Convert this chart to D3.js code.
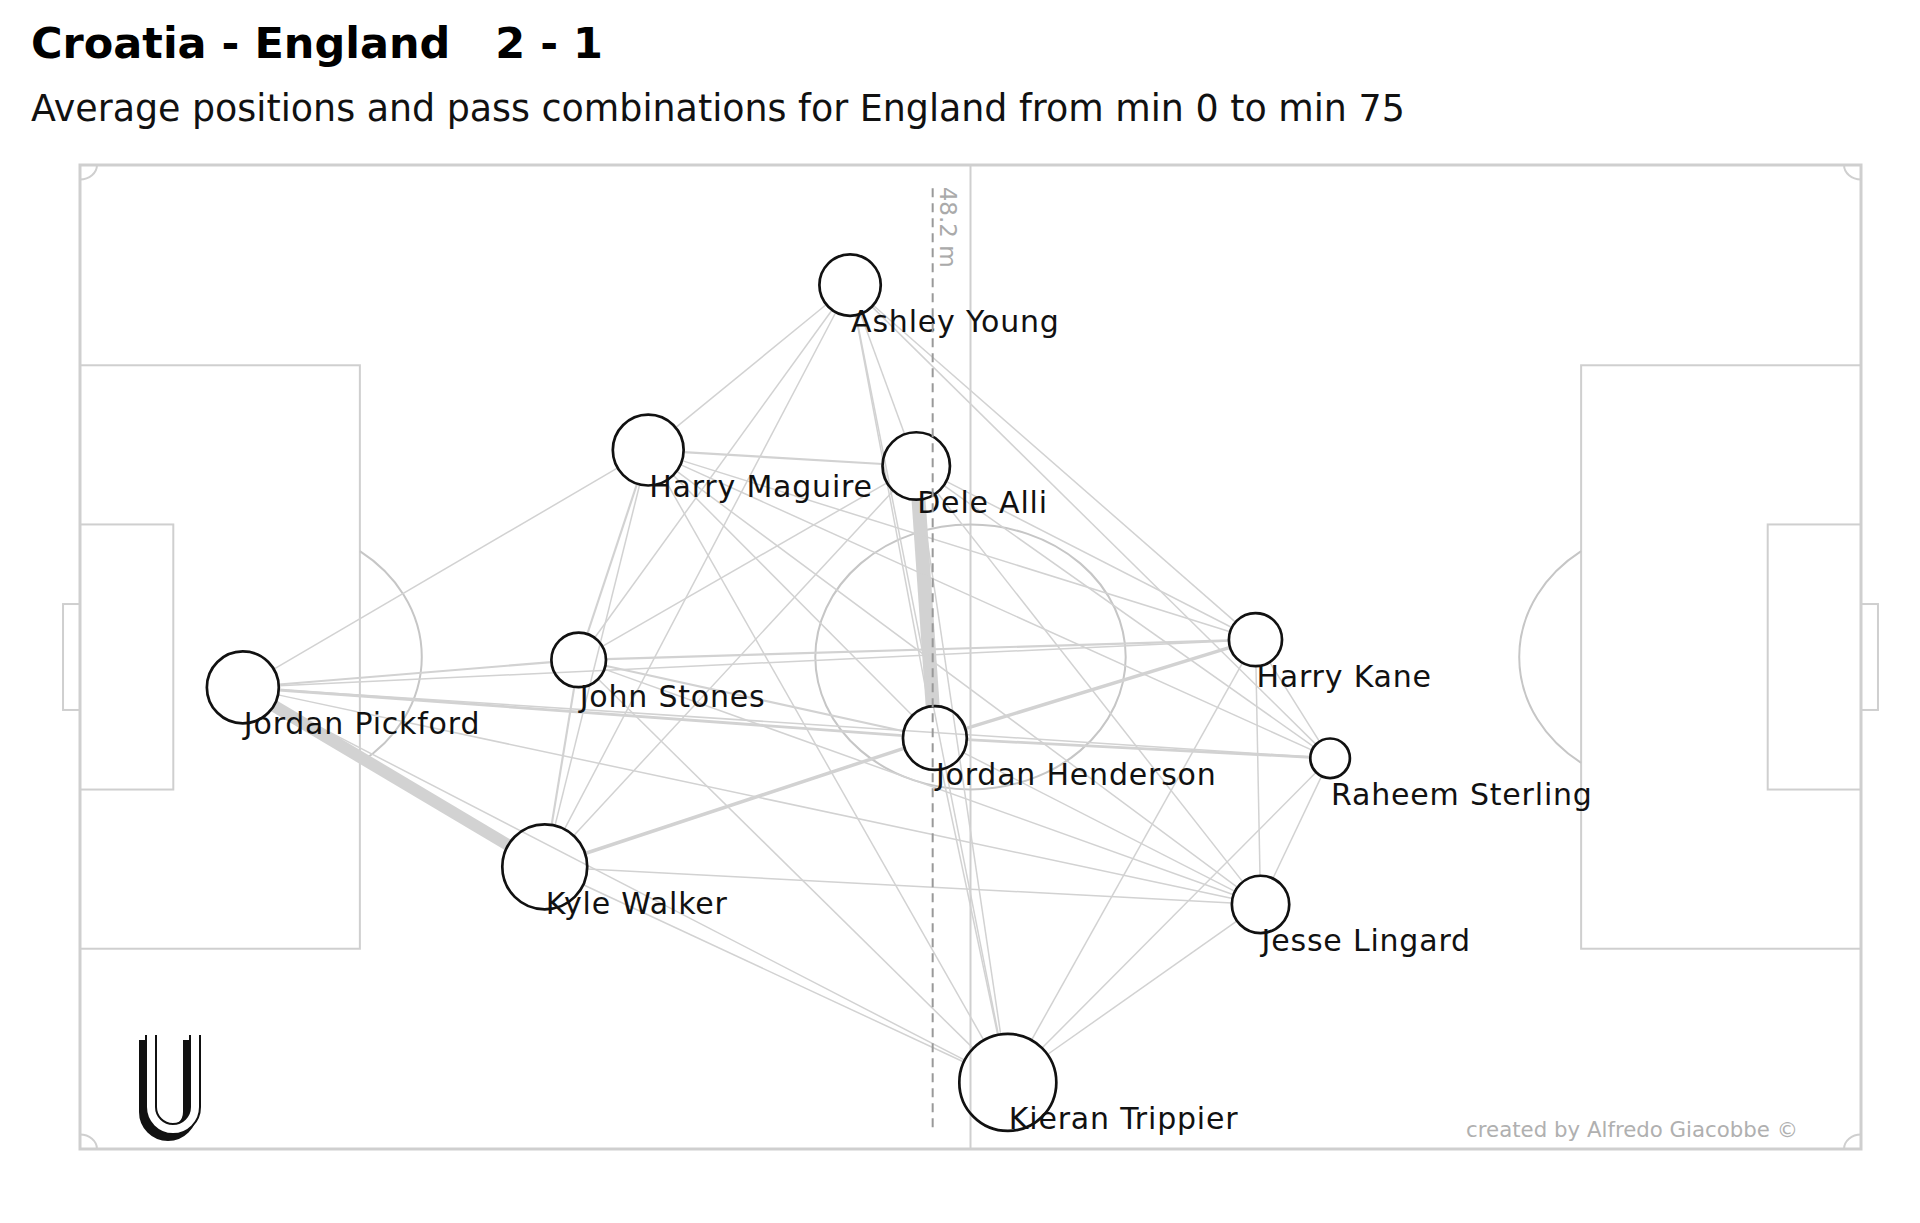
<!DOCTYPE html>
<html>
<head>
<meta charset="utf-8">
<title>Croatia - England pass network</title>
<script src="https://cdn.jsdelivr.net/npm/d3@7"></script>
<style>
body { margin: 0; background: #fff; }
svg { display: block; font-family: "DejaVu Sans", sans-serif; }
.pitch line, .pitch rect, .pitch path { fill: none; stroke: #cfcfcf; stroke-width: 2; }
.pitch .arc { stroke: #c6c6c6; }
.links line { stroke: #d2d2d2; stroke-linecap: butt; }
.nodes circle { fill: none; stroke: #111; stroke-width: 2.7; }
.nodes text { font-size: 30px; letter-spacing: 0.8px; fill: #111; }
</style>
</head>
<body>
<svg width="1920" height="1223"></svg>
<script>
// match info
var title = "Croatia - England   2 - 1"
var subtitle = "Average positions and pass combinations for England from min 0 to min 75"
var credit = "created by Alfredo Giacobbe \u00a9"
var avgLineLabel = "48.2 m"

// average positions in metres on a 105 x 68 pitch
var players = ["Ashley Young", "Harry Maguire", "Dele Alli", "John Stones", "Jordan Pickford",
  "Jordan Henderson", "Harry Kane", "Raheem Sterling", "Kyle Walker", "Jesse Lingard", "Kieran Trippier"]
var posX = [45.4, 33.5, 49.3, 29.4, 9.6, 50.4, 69.3, 73.7, 27.4, 69.6, 54.7]
var posY = [8.3, 19.7, 20.8, 34.2, 36.1, 39.6, 32.8, 41.0, 48.5, 51.1, 63.4]
var passes = [24, 32, 29, 19, 33, 26, 18, 10, 46, 21, 60]
var goalkeeper = "Jordan Pickford"

// pass combinations: [player a, player b, passes]
var passLinks = [
  [4, 8, 17], [2, 5, 20], [4, 1, 1], [4, 3, 2], [4, 6, 1], [4, 5, 3], [4, 7, 1], [4, 9, 1], [4, 10, 1],
  [0, 1, 1], [0, 3, 1], [0, 8, 1], [0, 2, 1], [0, 5, 1], [0, 10, 1], [0, 6, 1], [0, 7, 1],
  [1, 2, 2], [1, 6, 1], [1, 7, 1], [1, 5, 1], [1, 9, 1], [1, 10, 1], [1, 3, 2], [1, 8, 1],
  [2, 3, 1], [2, 8, 1], [2, 6, 1], [2, 7, 1], [2, 9, 1], [2, 10, 1],
  [3, 6, 2], [3, 5, 2], [3, 9, 1], [3, 10, 1], [3, 8, 2],
  [8, 5, 4], [8, 9, 1], [8, 10, 1],
  [5, 6, 4], [5, 7, 3], [5, 9, 1], [5, 10, 1],
  [6, 7, 1], [6, 9, 1], [6, 10, 1], [7, 9, 1], [7, 10, 1], [9, 10, 1]
]

var svg = d3.select("svg")
var x = d3.scaleLinear().domain([0, 105]).range([80, 1861])
var y = d3.scaleLinear().domain([0, 68]).range([165, 1149])
var r = d3.scaleSqrt().domain([0, 60]).range([0, 48.5])
var w = d3.scaleLinear().domain([1, 20]).range([1.5, 14])

// titles
svg.append("text").attr("x", 31).attr("y", 58)
  .style("font-size", "43px").style("font-weight", "bold").style("white-space", "pre")
  .text(title)
svg.append("text").attr("x", 31).attr("y", 121)
  .style("font-size", "36.4px").style("fill", "#111")
  .text(subtitle)

// pitch
var pitch = svg.append("g").attr("class", "pitch")
function box(x0, y0, x1, y1) {
  pitch.append("rect").attr("x", x(x0)).attr("y", y(y0))
    .attr("width", x(x1) - x(x0)).attr("height", y(y1) - y(y0))
}
box(0, 13.84, 16.5, 54.16)
box(0, 24.84, 5.5, 43.16)
box(-1, 30.34, 0, 37.66)
box(88.5, 13.84, 105, 54.16)
box(99.5, 24.84, 105, 43.16)
box(105, 30.34, 106, 37.66)
pitch.append("line").attr("x1", x(52.5)).attr("x2", x(52.5)).attr("y1", y(0)).attr("y2", y(68))
pitch.append("rect").attr("x", x(0)).attr("y", y(0))
  .attr("width", x(105) - x(0)).attr("height", y(68) - y(0)).style("stroke-width", 3)

var rx = x(9.15) - x(0), ry = y(9.15) - y(0)
pitch.append("ellipse").attr("class", "arc")
  .attr("cx", x(52.5)).attr("cy", y(34)).attr("rx", rx).attr("ry", ry)
  .style("fill", "none").style("stroke", "#c6c6c6").style("stroke-width", 2)

var a = Math.acos(5.5 / 9.15)
function penArc(cx, dir) {
  var sx = cx + dir * 9.15 * Math.cos(a)
  var p = "M" + x(sx) + "," + y(34 - 9.15 * Math.sin(a)) +
    " A" + rx + "," + ry + " 0 0 " + (dir > 0 ? 1 : 0) + " " + x(sx) + "," + y(34 + 9.15 * Math.sin(a))
  pitch.append("path").attr("class", "arc").attr("d", p)
}
penArc(11, 1)
penArc(94, -1)

var cr = 1
;[[0, 0, 1, 1], [105, 0, -1, 1], [0, 68, 1, -1], [105, 68, -1, -1]].forEach(function (c) {
  var p = "M" + x(c[0] + c[2] * cr) + "," + y(c[1]) +
    " A" + (x(cr) - x(0)) + "," + (y(cr) - y(0)) + " 0 0 " + (c[2] * c[3] > 0 ? 1 : 0) + " " +
    x(c[0]) + "," + y(c[1] + c[3] * cr)
  pitch.append("path").attr("d", p)
})

// nodes
var nodes = players.map(function (n, i) {
  return { name: n, px: x(posX[i]), py: y(posY[i]), r: r(passes[i]) }
})

// links, trimmed to the circle edges
var links = svg.append("g").attr("class", "links")
  .selectAll("line").data(passLinks).enter().append("line")
  .each(function (d) {
    var s = nodes[d[0]], t = nodes[d[1]]
    var dx = t.px - s.px, dy = t.py - s.py, len = Math.sqrt(dx * dx + dy * dy)
    d3.select(this)
      .attr("x1", s.px + dx / len * s.r).attr("y1", s.py + dy / len * s.r)
      .attr("x2", t.px - dx / len * t.r).attr("y2", t.py - dy / len * t.r)
  })
  .attr("stroke-width", function (d) { return w(d[2]) })

var node = svg.append("g").attr("class", "nodes")
  .selectAll("g").data(nodes).enter().append("g")
  .attr("transform", function (d) { return "translate(" + d.px + "," + d.py + ")" })
node.append("circle").attr("r", function (d) { return d.r })
node.append("text").attr("x", 1).attr("y", 47).text(function (d) { return d.name })

// average line of the outfield players
var outfield = posX.filter(function (v, i) { return players[i] != goalkeeper })
var avgX = x(d3.mean(outfield))
svg.append("line").attr("x1", avgX).attr("x2", avgX).attr("y1", y(1.6)).attr("y2", y(66.5))
  .style("stroke", "#999").style("stroke-width", 2).style("stroke-dasharray", "9,6")
svg.append("text").attr("transform", "translate(" + (avgX + 7) + "," + y(1.5) + ") rotate(90)")
  .style("font-size", "23px").style("fill", "#aaa")
  .text(avgLineLabel)

// credit
svg.append("text").attr("x", 1798).attr("y", 1137).attr("text-anchor", "end")
  .style("font-size", "21.3px").style("fill", "#b0b0b0")
  .text(credit)

// logo
var logo = svg.append("g").attr("transform", "translate(170,1036)")
var u = "M-22,0 V72 A22,22 0 0 0 22,72 V0"
logo.append("path").attr("d", u).attr("transform", "translate(-2,4)")
  .style("fill", "none").style("stroke", "#111").style("stroke-width", 14)
logo.append("path").attr("d", u).attr("transform", "translate(3,-1)")
  .style("fill", "none").style("stroke", "#111").style("stroke-width", 12)
logo.append("path").attr("d", u).attr("transform", "translate(3,-1)")
  .style("fill", "none").style("stroke", "#fff").style("stroke-width", 8)
</script>
</body>
</html>
